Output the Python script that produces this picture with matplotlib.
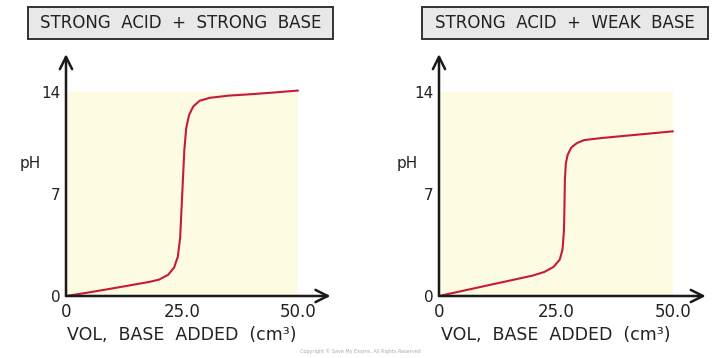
"""Titration curves: strong acid with strong / weak base."""
import matplotlib
matplotlib.use('Agg')
import matplotlib.pyplot as plt
from matplotlib.patches import Rectangle

# values: volume of base added (cm3) and pH
strong_vol = [0, 5, 10, 15, 18, 20, 22, 23.3, 24.1, 24.6, 24.9, 25.2, 25.5,
              25.9, 26.5, 27.4, 28.8, 31, 35, 40, 45, 50]
strong_ph = [0, 0.25, 0.52, 0.8, 0.97, 1.12, 1.45, 1.95, 2.7, 4.0, 6.0, 8.0,
             10.0, 11.5, 12.4, 13.0, 13.4, 13.6, 13.75, 13.85, 13.97, 14.1]

weak_vol = [0, 5, 10, 15, 20, 22.5, 24.5, 25.8, 26.4, 26.7, 26.8, 26.9, 27.1,
            27.5, 28.3, 29.5, 31, 35, 40, 45, 50]
weak_ph = [0, 0.35, 0.7, 1.05, 1.4, 1.65, 2.0, 2.5, 3.2, 4.5, 6.0, 8.0, 9.1,
           9.7, 10.2, 10.5, 10.7, 10.85, 11.0, 11.15, 11.3]

titles = ['STRONG  ACID  +  STRONG  BASE', 'STRONG  ACID  +  WEAK  BASE']
x_ticks = [0, 25, 50]
x_ticklabels = ['0', '25.0', '50.0']
y_ticks = [0, 7, 14]
y_ticklabels = ['0', '7', '14']

W, H = 720, 358
fig = plt.figure(figsize=(7.2, 3.58), dpi=100)
fig.patch.set_facecolor('white')

panels = [
    dict(x0=66, px_per=232 / 50, vol=strong_vol, ph=strong_ph,
         box=(28, 7, 305, 32), ph_x=-7.8),
    dict(x0=439, px_per=234 / 50, vol=weak_vol, ph=weak_ph,
         box=(422, 7, 286, 32), ph_x=-6.8),
]

XMAX, YMAX = 57, 16.6
y_px_per = 204 / 14

for p, title in zip(panels, titles):
    left = p['x0'] / W
    bottom = 62 / H
    ax = fig.add_axes([left, bottom, XMAX * p['px_per'] / W, YMAX * y_px_per / H])
    ax.set_xlim(0, XMAX)
    ax.set_ylim(0, YMAX)
    for s in ax.spines.values():
        s.set_visible(False)
    ax.patch.set_alpha(0)

    # cream background of the plotting region
    ax.add_patch(Rectangle((0, 0), 50, 14, facecolor='#fdfbe2', edgecolor='none', zorder=0))

    # axes drawn as arrows
    ax.annotate('', xy=(XMAX, 0), xytext=(0, 0),
                arrowprops=dict(arrowstyle='->', lw=1.8, color='#1a1a1a',
                                mutation_scale=22, shrinkA=0, shrinkB=0),
                annotation_clip=False, zorder=3)
    ax.annotate('', xy=(0, YMAX), xytext=(0, 0),
                arrowprops=dict(arrowstyle='->', lw=1.8, color='#1a1a1a',
                                mutation_scale=22, shrinkA=0, shrinkB=0),
                annotation_clip=False, zorder=3)

    ax.plot(p['vol'], p['ph'], color='#c8193c', lw=1.5, solid_joinstyle='round',
            solid_capstyle='round', zorder=2, clip_on=False)

    ax.set_xticks(x_ticks)
    ax.set_xticklabels(x_ticklabels, fontsize=12, color='#222222')
    ax.set_yticks(y_ticks)
    ax.set_yticklabels(y_ticklabels, fontsize=11, color='#222222')
    ax.tick_params(length=0, pad=4)
    ax.tick_params(axis='x', pad=5)

    ax.text(p['ph_x'], 9.1, 'pH', fontsize=11, ha='center', va='center',
            color='#222222', clip_on=False)
    ax.text(25, -2.7, 'VOL,  BASE  ADDED  (cm\u00b3)', fontsize=12.5, ha='center',
            va='center', color='#222222', clip_on=False)

    # title box
    bx, by, bw, bh = p['box']
    fig.patches.append(Rectangle((bx / W, 1 - (by + bh) / H), bw / W, bh / H,
                                 transform=fig.transFigure, facecolor='#e8e8e8',
                                 edgecolor='#333333', lw=1.4))
    fig.text((bx + bw / 2) / W, 1 - (by + bh / 2) / H, title, fontsize=12,
             ha='center', va='center', color='#222222')

fig.text(0.5, 1 - 351 / H, 'Copyright \u00a9 Save My Exams. All Rights Reserved',
         fontsize=3.5, ha='center', va='center', color='#aaaaaa')

fig.savefig('out.png', dpi=100)
